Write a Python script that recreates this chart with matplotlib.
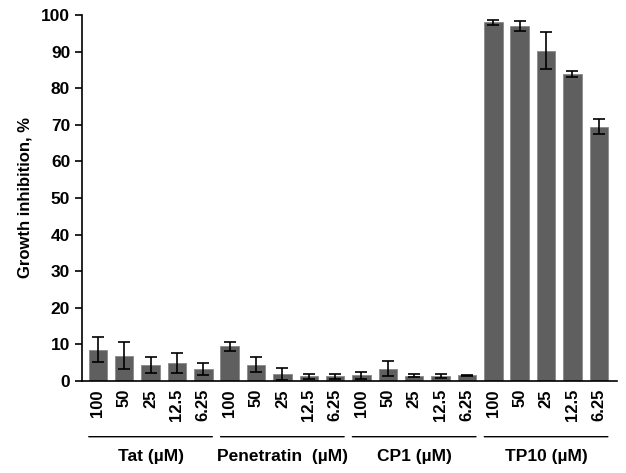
import matplotlib
matplotlib.use("Agg")
import matplotlib.pyplot as plt
import numpy as np

plt.rcParams["font.family"] = ["Liberation Sans", "DejaVu Sans"]

groups = ["Tat (\u00b5M)", "Penetratin  (\u00b5M)", "CP1 (\u00b5M)", "TP10 (\u00b5M)"]
concs = ["100", "50", "25", "12.5", "6.25"]
tat = [8.5, 6.8, 4.2, 4.8, 3.3]
tat_err = [3.5, 3.7, 2.2, 2.7, 1.6]
pen = [9.4, 4.4, 1.9, 1.2, 1.2]
pen_err = [1.2, 2.0, 1.6, 0.6, 0.6]
cp1 = [1.5, 3.3, 1.4, 1.3, 1.5]
cp1_err = [1.0, 2.0, 0.4, 0.5, 0.2]
tp10 = [98.0, 97.0, 90.3, 83.8, 69.5]
tp10_err = [0.7, 1.4, 5.0, 0.8, 2.1]

values = tat + pen + cp1 + tp10
errors = tat_err + pen_err + cp1_err + tp10_err
labels = concs * 4

fig = plt.figure(figsize=(6.26, 4.73), dpi=100)
ax = fig.add_axes([0.131, 0.195, 0.855, 0.773])
x = np.arange(len(values))
ax.bar(x, values, width=0.7, color="#5f5f5f", edgecolor="#8a8a8a", linewidth=0.6,
       yerr=errors, capsize=4, error_kw=dict(ecolor="black", elinewidth=1.2, capthick=1.2))
ax.set_xlim(-0.6, len(values) - 0.3)
ax.set_ylim(0, 100)
ax.set_yticks(range(0, 101, 10))
for lbl in ax.get_yticklabels():
    lbl.set_fontweight("bold")
ax.tick_params(axis="y", labelsize=12.5, direction="out", length=5, width=1.2)
ax.set_xticks(x)
ax.set_xticklabels(labels, rotation=90, fontsize=12, fontweight="bold")
ax.tick_params(axis="x", length=0, pad=6)
ax.spines["top"].set_visible(False)
ax.spines["right"].set_visible(False)
ax.spines["left"].set_linewidth(1.2)
ax.spines["bottom"].set_linewidth(1.2)
ax.set_ylabel("Growth inhibition, %", fontsize=12, fontweight="bold", labelpad=6)

for i, g in enumerate(groups):
    x0 = i * 5 - 0.45
    x1 = i * 5 + 4.45
    ax.annotate("", xy=(x0, -15.3), xytext=(x1, -15.3), xycoords=("data", "data"),
                arrowprops=dict(arrowstyle="-", color="black", lw=1.0), annotation_clip=False)
    ax.text(i * 5 + 2, -20.8, g, ha="center", va="center", fontsize=12.5, fontweight="bold",
            clip_on=False)

fig.savefig("out.png", dpi=100)
